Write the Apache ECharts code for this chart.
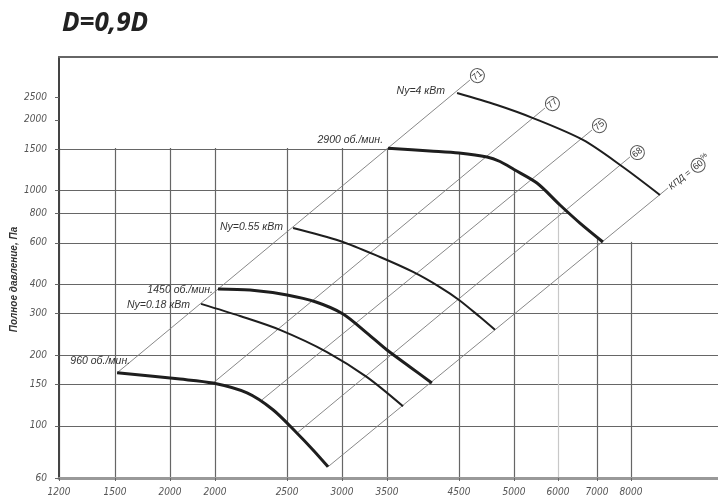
<!DOCTYPE html>
<html><head><meta charset="utf-8">
<script src="https://cdn.jsdelivr.net/npm/echarts@6/dist/echarts.min.js"></script>
<style>html,body{margin:0;padding:0;background:#fff}#c{width:718px;height:499px}</style>
</head><body><div id="c"></div>
<script>
const titleText = 'D=0,9D';
const yAxisName = 'Полное давление, Па';
const xTickValues = [1200, 1445, 1734, 2013, 2557, 3068, 3562, 4523, 5427, 6279, 7146, 8000];
const xTickLabels = ['1200', '1500', '2000', '2000', '2500', '3000', '3500', '4500', '5000', '6000', '7000', '8000'];
const yTickValues = [60, 100, 150, 200, 300, 400, 600, 800, 1000, 1500, 2000, 2500];
const yTickLabels = ['60', '100', '150', '200', '300', '400', '600', '800', '1000', '1500', '2000', '2500'];
const X_MIN = 1200, X_MAX = 10676, Y_MIN = 60, Y_MAX = 3700;

// characteristic curves [flow, pressure]
const rpm2900 = [[3574,1515],[4106,1474],[4523,1445],[4962,1390],[5181,1330],[5427,1230],[5856,1077],[6321,869],[6754,728],[7288,605]];
const ny4 = [[4493,2601],[5129,2312],[5779,2035],[6822,1642],[7789,1260],[8806,958]];
const ny055 = [[2608,694],[3048,611],[3480,522],[3883,451],[4244,389],[4523,343],[4849,290],[5095,256]];
const rpm1450 = [[2033,382],[2261,378],[2557,360],[2814,336],[3078,299],[3333,248],[3562,210],[3844,178],[4133,152]];
const ny018 = [[1922,330],[2188,293],[2497,256],[2919,206],[3333,161],[3756,121]];
const rpm960 = [[1455,168],[1793,158],[2000,152],[2239,138],[2440,117],[2643,93],[2787,79],[2929,67]];

// efficiency lines [start, end]
const eff1 = [[1455,168],[4689,2953]];
const eff2 = [[2000,152],[6014,2245]];
const eff3 = [[2353,129],[7029,1810]];
const eff4 = [[2652,94],[7972,1390]];
const eff5 = [[2929,67],[9043,1026]];
const effNames = ['71', '77', '75', '68', '60'];

const curveLabels = ['Ny=4 кВт', '2900 об./мин.', 'Ny=0.55 кВт', '1450 об./мин.', 'Ny=0.18 кВт', '960 об./мин.'];

const smallFont = 'Liberation Sans Narrow, DejaVu Sans Condensed, Liberation Sans, sans-serif';
const labelFont = 'Liberation Sans, sans-serif';

function lookup(vals, labels, v) {
  for (let i = 0; i < vals.length; i++) if (Math.abs(vals[i] - v) / vals[i] < 0.005) return labels[i];
  return '';
}

function curveSeries(data, width, text, lab) {
  return {
    type: 'line', xAxisIndex: 0, yAxisIndex: 0, z: 5,
    smooth: 0.3, symbol: 'circle', symbolSize: 0.01, showSymbol: true,
    lineStyle: { color: '#1e1e1e', width: width },
    itemStyle: { color: '#1e1e1e' },
    data: data.map((d, i) => i === 0 ? {
      value: d,
      label: Object.assign({
        show: true, position: 'left', formatter: text, color: '#333',
        fontSize: 10.5, fontStyle: 'italic', fontFamily: labelFont
      }, lab)
    } : d)
  };
}

const circleRich = {
  c: { borderColor: '#555', borderWidth: 1, borderRadius: 8, width: 14, height: 14, lineHeight: 14,
       align: 'center', fontSize: 9, color: '#333', fontFamily: labelFont },
  t: { fontSize: 9, color: '#333', fontStyle: 'italic', fontFamily: labelFont },
  p: { fontSize: 7, color: '#333', fontFamily: labelFont, verticalAlign: 'top' }
};

function effSeries(data, text) {
  return {
    type: 'line', xAxisIndex: 0, yAxisIndex: 0, z: 3,
    symbol: 'circle', symbolSize: 0.01, showSymbol: true,
    lineStyle: { color: '#7a7a7a', width: 0.9 },
    itemStyle: { color: '#7a7a7a' },
    data: [data[0], {
      value: data[1],
      label: { show: true, position: 'right', distance: 2, rotate: 39, formatter: text, rich: circleRich }
    }]
  };
}

const envelope = [[X_MIN, 1500 * 1.013], [rpm2900[0][0], 1500 * 1.013]]
  .concat(rpm2900)
  .concat([[X_MAX, 600 * 1.013], [X_MAX, Y_MAX], [X_MIN, Y_MAX]]);

const tickFontStyle = { fontSize: 10, fontStyle: 'italic', color: '#555', fontFamily: smallFont };
const xGridColors = xTickValues.map(v => v === 6279 ? '#c8c8c8' : '#666');

const option = {
  animation: false,
  backgroundColor: '#fff',
  title: { text: titleText, left: 57, top: 6,
    textStyle: { fontSize: 26, fontWeight: 'bold', fontStyle: 'italic', fontFamily: 'Noto Sans', color: '#222' } },
  grid: { left: 59, top: 57, right: 0, bottom: 21, containLabel: false, outerBoundsMode: 'none' },
  xAxis: [
    { type: 'log', min: X_MIN, max: X_MAX, position: 'bottom', z: 0,
      axisLine: { show: false }, axisTick: { show: false, customValues: xTickValues },
      axisLabel: { show: false, customValues: xTickValues },
      splitLine: { show: true, lineStyle: { color: xGridColors, width: 1.2 } } },
    { type: 'log', min: X_MIN, max: X_MAX, position: 'bottom', z: 10,
      axisLine: { show: true, lineStyle: { color: '#999', width: 3 } },
      axisTick: { show: true, length: 3, customValues: xTickValues, lineStyle: { color: '#666' } },
      axisLabel: Object.assign({ show: true, margin: 9, customValues: xTickValues,
        formatter: v => lookup(xTickValues, xTickLabels, v) }, tickFontStyle),
      splitLine: { show: false } },
    { type: 'log', min: X_MIN, max: X_MAX, position: 'top', z: 10,
      axisLine: { show: true, lineStyle: { color: '#666', width: 2 } },
      axisTick: { show: false }, axisLabel: { show: false }, splitLine: { show: false } }
  ],
  yAxis: [
    { type: 'log', min: Y_MIN, max: Y_MAX, position: 'left', z: 0,
      axisLine: { show: false }, axisTick: { show: false, customValues: yTickValues },
      axisLabel: { show: false, customValues: yTickValues },
      splitLine: { show: true, lineStyle: { color: '#666', width: 1.2 } } },
    { type: 'log', min: Y_MIN, max: Y_MAX, position: 'left', z: 10,
      name: yAxisName, nameLocation: 'middle', nameGap: 40, nameRotate: 90, nameMoveOverlap: false,
      nameTextStyle: { fontSize: 10, fontWeight: 'bold', fontStyle: 'italic', color: '#333',
        fontFamily: labelFont, padding: [0, 24, 0, 0] },
      axisLine: { show: true, lineStyle: { color: '#444', width: 2 } },
      axisTick: { show: true, length: 4, customValues: yTickValues, lineStyle: { color: '#666' } },
      axisLabel: Object.assign({ show: true, margin: 12, customValues: yTickValues,
        formatter: v => lookup(yTickValues, yTickLabels, v) }, tickFontStyle),
      splitLine: { show: false } }
  ],
  series: [
    { type: 'custom', xAxisIndex: 0, yAxisIndex: 0, z: 1, silent: true, clip: false,
      data: [[X_MIN, Y_MAX]],
      renderItem: (params, api) => ({
        type: 'polygon',
        shape: { points: envelope.map(p => api.coord(p)) },
        style: { fill: '#fff', stroke: null }
      }) },
    effSeries(eff1, '{c|' + effNames[0] + '}'),
    effSeries(eff2, '{c|' + effNames[1] + '}'),
    effSeries(eff3, '{c|' + effNames[2] + '}'),
    effSeries(eff4, '{c|' + effNames[3] + '}'),
    effSeries(eff5, '{t|КПД =} {c|' + effNames[4] + '}{p|%}'),
    curveSeries(ny4, 2, curveLabels[0], { distance: 12, offset: [0, -2] }),
    curveSeries(rpm2900, 3, curveLabels[1], { distance: 5, offset: [0, -8] }),
    curveSeries(ny055, 2, curveLabels[2], { distance: 10, offset: [0, -1] }),
    curveSeries(rpm1450, 3, curveLabels[3], { distance: 5, offset: [0, 1] }),
    curveSeries(ny018, 2, curveLabels[4], { distance: 11, offset: [0, 1] }),
    curveSeries(rpm960, 3, curveLabels[5], { distance: 5, offset: [18, -12] })
  ]
};

const chart = echarts.init(document.getElementById('c'), null, { renderer: 'canvas' });
chart.setOption(option);
</script>
</body></html>
